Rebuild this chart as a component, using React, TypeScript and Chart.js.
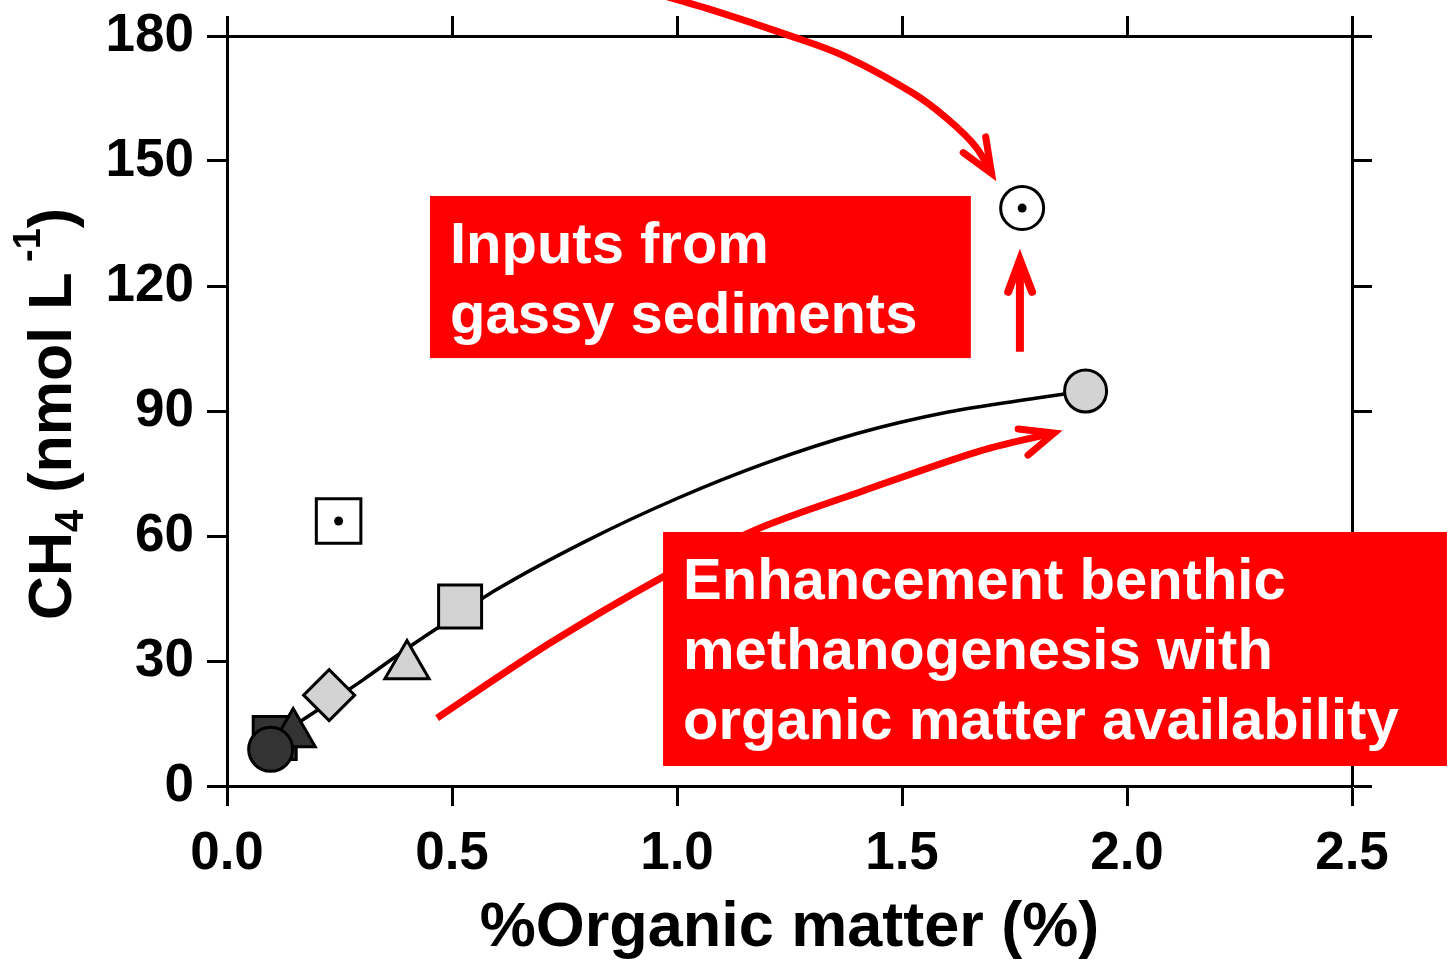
import { useEffect, useRef } from 'react';
import { Chart, registerables } from 'chart.js';

Chart.register(...registerables);

const W = 1449;
const H = 969;
const FONT = "'Liberation Sans', Arial, Helvetica, sans-serif";
const RED = '#ff0000';
const GREY = '#d3d3d3';
const DARK = '#333333';

// Axis ticks
const xTicks = [0, 0.5, 1, 1.5, 2, 2.5];
const xTickLabels = ['0.0', '0.5', '1.0', '1.5', '2.0', '2.5'];
const yTicks = [0, 30, 60, 90, 120, 150, 180];
const yTickLabels = ['0', '30', '60', '90', '120', '150', '180'];

// Sites: % organic matter vs. dissolved CH4 (nmol L-1)
const darkCircleOM = [0.097];
const darkCircleCH4 = [8.8];
const darkSquareOM = [0.106];
const darkSquareCH4 = [11.5];
const darkTriangleOM = [0.147];
const darkTriangleCH4 = [12.5];
const greyDiamondOM = [0.227];
const greyDiamondCH4 = [21.8];
const greyTriangleOM = [0.4];
const greyTriangleCH4 = [28.8];
const greySquareOM = [0.518];
const greySquareCH4 = [43.1];
const greyCircleOM = [1.908];
const greyCircleCH4 = [94.8];
const gassySquareOM = [0.248];
const gassySquareCH4 = [63.6];
const gassyCircleOM = [1.767];
const gassyCircleCH4 = [138.7];

// Saturating trend through the benthic sites
const trendOM = [0.12, 0.2, 0.3, 0.4, 0.5, 0.6, 0.8, 1.0, 1.2, 1.4, 1.6, 1.8, 1.908];
const trendCH4 = [12.5, 18.1, 25.3, 33.0, 40.2, 47.2, 58.9, 69.0, 77.6, 84.6, 89.7, 93.1, 94.8];

// Red arrows (shaft path + arrow head: arm, tip, arm), in data units
const topArrowOM = [0.94, 1.079, 1.247, 1.376, 1.524, 1.604, 1.664, 1.699];
const topArrowCH4 = [190.6, 186.2, 180.2, 175.0, 166.3, 159.8, 153.4, 147.0];
const topHeadOM = [1.686, 1.699, 1.636];
const topHeadCH4 = [155.8, 147.0, 152.0];

const upArrowOM = [1.762, 1.762];
const upArrowCH4 = [104.2, 126.2];
const upHeadOM = [1.736, 1.762, 1.789];
const upHeadCH4 = [118.6, 126.2, 118.6];

const lowArrowOM = [0.467, 0.718, 0.969, 1.173, 1.413, 1.667, 1.838];
const lowArrowCH4 = [16.3, 34.3, 50.2, 61.4, 70.8, 80.2, 84.7];
const lowHeadOM = [1.758, 1.838, 1.78];
const lowHeadCH4 = [85.7, 84.7, 79.4];

// Red label boxes
const gassyBoxOM = [0.451, 1.653];
const gassyBoxCH4 = [141.6, 102.7];
const gassyLines = ['Inputs from', 'gassy sediments'];
const benthicBoxOM = [0.969, 2.711];
const benthicBoxCH4 = [60.96, 4.8];
const benthicLines = ['Enhancement benthic', 'methanogenesis with', 'organic matter availability'];

const pts = (xs: number[], ys: number[]) => xs.map((x, i) => ({ x, y: ys[i] }));

function marker(data: { x: number; y: number }[], style: string, radius: number, fill: string, order: number) {
  return {
    data,
    order,
    pointStyle: style,
    pointRadius: radius,
    pointBackgroundColor: fill,
    pointBorderColor: '#000',
    pointBorderWidth: 3,
    showLine: false,
  };
}

function smoothPath(ctx: CanvasRenderingContext2D, p: number[][]) {
  ctx.moveTo(p[0][0], p[0][1]);
  for (let i = 0; i < p.length - 1; i++) {
    const p0 = p[i - 1] || p[i];
    const p1 = p[i];
    const p2 = p[i + 1];
    const p3 = p[i + 2] || p2;
    ctx.bezierCurveTo(
      p1[0] + (p2[0] - p0[0]) / 6,
      p1[1] + (p2[1] - p0[1]) / 6,
      p2[0] - (p3[0] - p1[0]) / 6,
      p2[1] - (p3[1] - p1[1]) / 6,
      p2[0],
      p2[1]
    );
  }
}

const annotations = {
  id: 'annotations',
  afterDraw(chart: any) {
    const { ctx, scales, chartArea } = chart;
    const sx = scales.x;
    const sy = scales.y;
    const toPx = (xs: number[], ys: number[]) =>
      xs.map((v, i) => [sx.getPixelForValue(v), sy.getPixelForValue(ys[i])]);

    ctx.save();
    ctx.strokeStyle = RED;

    const arrow = (sOM: number[], sCH4: number[], hOM: number[], hCH4: number[], width: number) => {
      ctx.lineWidth = width;
      ctx.lineCap = 'butt';
      ctx.lineJoin = 'round';
      ctx.beginPath();
      smoothPath(ctx, toPx(sOM, sCH4));
      ctx.stroke();
      const head = toPx(hOM, hCH4);
      ctx.lineCap = 'round';
      ctx.lineJoin = 'miter';
      ctx.beginPath();
      ctx.moveTo(head[0][0], head[0][1]);
      ctx.lineTo(head[1][0], head[1][1]);
      ctx.lineTo(head[2][0], head[2][1]);
      ctx.stroke();
    };
    arrow(topArrowOM, topArrowCH4, topHeadOM, topHeadCH4, 7);
    arrow(upArrowOM, upArrowCH4, upHeadOM, upHeadCH4, 8);
    arrow(lowArrowOM, lowArrowCH4, lowHeadOM, lowHeadCH4, 7);

    const box = (bOM: number[], bCH4: number[], lines: string[]) => {
      const x0 = sx.getPixelForValue(bOM[0]);
      const x1 = sx.getPixelForValue(bOM[1]);
      const y0 = sy.getPixelForValue(bCH4[0]);
      const y1 = sy.getPixelForValue(bCH4[1]);
      ctx.fillStyle = RED;
      ctx.fillRect(x0, y0, x1 - x0, y1 - y0);
      ctx.fillStyle = '#fff';
      ctx.font = `bold 58px ${FONT}`;
      ctx.textAlign = 'left';
      ctx.textBaseline = 'alphabetic';
      lines.forEach((t, i) => ctx.fillText(t, x0 + 20, y0 + 67 + i * 70));
    };
    box(gassyBoxOM, gassyBoxCH4, gassyLines);
    box(benthicBoxOM, benthicBoxCH4, benthicLines);

    // Y-axis title with subscript and superscript
    const parts = [
      { t: 'CH', size: 61, dy: 0 },
      { t: '4', size: 40, dy: 12 },
      { t: ' (nmol L', size: 61, dy: 0 },
      { t: ' -1', size: 38, dy: -31 },
      { t: ')', size: 61, dy: 0 },
    ];
    let total = 0;
    const widths = parts.map((p) => {
      ctx.font = `bold ${p.size}px ${FONT}`;
      const w = ctx.measureText(p.t).width;
      total += w;
      return w;
    });
    ctx.translate(71, (chartArea.top + chartArea.bottom) / 2 + 3);
    ctx.rotate(-Math.PI / 2);
    ctx.fillStyle = '#000';
    ctx.textAlign = 'left';
    ctx.textBaseline = 'alphabetic';
    let cx = -total / 2;
    parts.forEach((p, i) => {
      ctx.font = `bold ${p.size}px ${FONT}`;
      ctx.fillText(p.t, cx, p.dy);
      cx += widths[i];
    });
    ctx.restore();
  },
};

const frameGrid = {
  drawOnChartArea: false,
  drawTicks: true,
  tickLength: 20,
  tickWidth: 3,
  tickColor: '#000',
};
const frameBorder = { display: true, color: '#000', width: 3 };
const tickFont = { family: FONT, size: 53, weight: 'bold' as const };

// Fixed axis band sizes so the frame sits where it should
const fixHorizontal = (height: number) => (s: any) => {
  s.height = height;
  s.paddingLeft = 0;
  s.paddingRight = 0;
};
const fixVertical = (width: number) => (s: any) => {
  s.width = width;
  s.paddingTop = 0;
  s.paddingBottom = 0;
};

export default function App() {
  const ref = useRef<HTMLCanvasElement>(null);

  useEffect(() => {
    const canvas = ref.current;
    if (!canvas) return;
    Chart.defaults.font.family = FONT;

    const chart = new Chart(canvas, {
      type: 'scatter',
      data: {
        datasets: [
          {
            data: pts([...gassySquareOM, ...gassyCircleOM], [...gassySquareCH4, ...gassyCircleCH4]),
            order: 0,
            pointStyle: 'circle',
            pointRadius: 4.5,
            pointBackgroundColor: '#000',
            pointBorderWidth: 0,
            showLine: false,
          },
          marker(pts(darkCircleOM, darkCircleCH4), 'circle', 22, DARK, 1),
          marker(pts(darkTriangleOM, darkTriangleCH4), 'triangle', 25.5, DARK, 2),
          marker(pts(darkSquareOM, darkSquareCH4), 'rect', 30.4, DARK, 3),
          marker(pts(greyDiamondOM, greyDiamondCH4), 'rectRot', 25.5, GREY, 4),
          marker(pts(greyTriangleOM, greyTriangleCH4), 'triangle', 25.5, GREY, 5),
          marker(pts(greySquareOM, greySquareCH4), 'rect', 30.4, GREY, 6),
          marker(pts(greyCircleOM, greyCircleCH4), 'circle', 21, GREY, 7),
          marker(pts(gassySquareOM, gassySquareCH4), 'rect', 31.5, '#fff', 8),
          marker(pts(gassyCircleOM, gassyCircleCH4), 'circle', 21.5, '#fff', 9),
          {
            data: pts(trendOM, trendCH4),
            order: 10,
            showLine: true,
            borderColor: '#000',
            borderWidth: 3.5,
            pointRadius: 0,
            cubicInterpolationMode: 'monotone',
            fill: false,
          },
        ] as any,
      },
      options: {
        responsive: false,
        animation: false,
        devicePixelRatio: 1,
        events: [],
        layout: { padding: 0, autoPadding: false },
        plugins: {
          legend: { display: false },
          tooltip: { enabled: false },
        },
        scales: {
          x: {
            type: 'linear',
            position: 'bottom',
            min: 0,
            max: 2.5,
            afterBuildTicks: (s: any) => {
              s.ticks = xTicks.map((value) => ({ value }));
            },
            afterFit: fixHorizontal(H - 786),
            ticks: {
              color: '#000',
              font: tickFont,
              padding: 17,
              maxRotation: 0,
              autoSkip: false,
              callback: (_v: any, i: number) => xTickLabels[i],
            },
            grid: frameGrid,
            border: frameBorder,
            title: {
              display: true,
              text: '%Organic matter (%)',
              color: '#000',
              font: { family: FONT, size: 63, weight: 'bold' },
              padding: { top: 0, bottom: 3 },
            },
          },
          x2: {
            type: 'linear',
            position: 'top',
            min: 0,
            max: 2.5,
            afterBuildTicks: (s: any) => {
              s.ticks = xTicks.map((value) => ({ value }));
            },
            afterFit: fixHorizontal(36),
            ticks: { display: false },
            grid: frameGrid,
            border: frameBorder,
          },
          y: {
            type: 'linear',
            position: 'left',
            min: 0,
            max: 180,
            afterBuildTicks: (s: any) => {
              s.ticks = yTicks.map((value) => ({ value }));
            },
            afterFit: fixVertical(227),
            ticks: {
              color: '#000',
              font: tickFont,
              padding: 13,
              autoSkip: false,
              callback: (_v: any, i: number) => yTickLabels[i],
            },
            grid: frameGrid,
            border: frameBorder,
          },
          y2: {
            type: 'linear',
            position: 'right',
            min: 0,
            max: 180,
            afterBuildTicks: (s: any) => {
              s.ticks = yTicks.map((value) => ({ value }));
            },
            afterFit: fixVertical(W - 1352),
            ticks: { display: false },
            grid: frameGrid,
            border: frameBorder,
          },
        },
      } as any,
      plugins: [annotations],
    });

    return () => chart.destroy();
  }, []);

  return (
    <div style={{ position: 'fixed', left: 0, top: 0, width: W, height: H, background: '#fff' }}>
      <canvas ref={ref} width={W} height={H} style={{ display: 'block' }} />
    </div>
  );
}
